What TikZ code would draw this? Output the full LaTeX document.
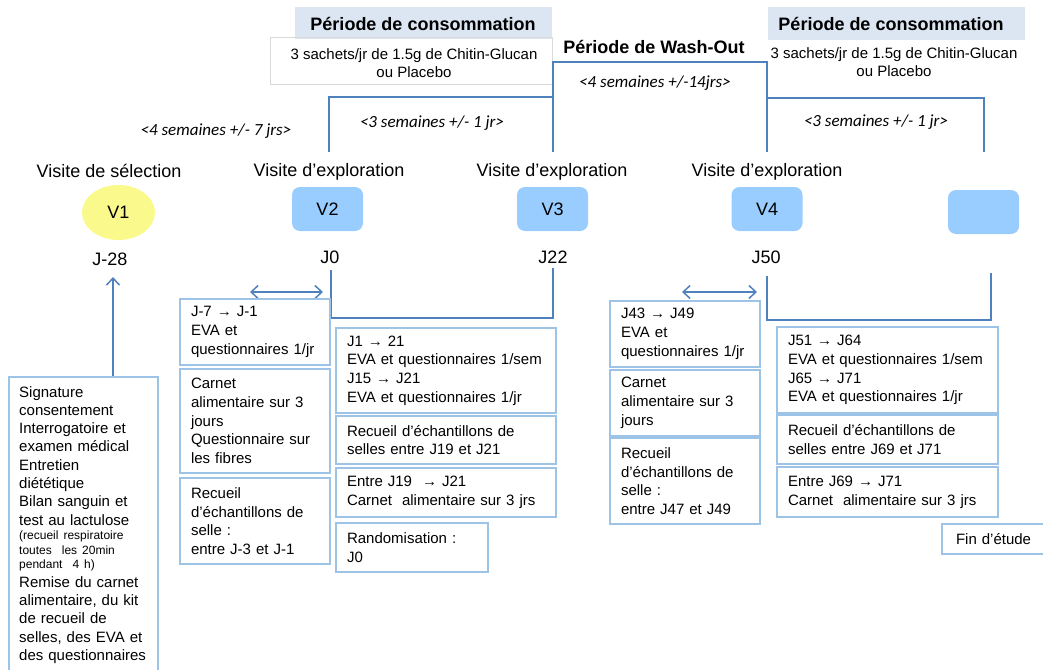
\documentclass[tikz,border=0pt]{standalone}
\usepackage{fontspec}
\setmainfont{Liberation Sans}
\newfontfamily\durfam{Carlito}
\usetikzlibrary{arrows.meta,shapes.geometric}
\definecolor{lineblue}{RGB}{79,129,189}
\definecolor{boxblue}{RGB}{157,195,230}
\definecolor{nodeblue}{RGB}{153,204,255}
\definecolor{vyellow}{RGB}{250,250,140}
\definecolor{hdrfill}{RGB}{220,230,242}
\definecolor{greyline}{RGB}{217,217,217}
\tikzset{
  conn/.style={draw=lineblue, line width=1.5pt},
  tipb/.style={-{Straight Barb[length=7pt,width=13pt]}},
  tipbb/.style={{Straight Barb[length=7pt,width=13pt]}-{Straight Barb[length=7pt,width=13pt]}},
  infobox/.style={draw=boxblue, line width=2pt, align=left, inner xsep=11pt, inner ysep=0pt,
    anchor=north west, font={\fontsize{15}{18.7}\selectfont}},
  vnode/.style={fill=nodeblue, rounded corners=8pt, minimum width=71pt, minimum height=44pt,
    inner sep=0pt, font={\fontsize{18}{21}\selectfont}},
  lbl/.style={font={\fontsize{18}{21}\selectfont}, anchor=base, inner sep=0pt},
  hdr/.style={font={\bfseries\fontsize{18}{21}\selectfont}, anchor=base, inner sep=0pt},
  dur/.style={font={\durfam\itshape\fontsize{17}{20}\selectfont}, anchor=base, inner sep=0pt},
  hdrbox/.style={fill=hdrfill, anchor=north west, inner sep=0pt},
  sach/.style={font={\fontsize{15}{18}\selectfont}, align=center, anchor=north, inner sep=0pt},
}
\begin{document}
\begin{tikzpicture}[x=1pt,y=-1pt]
\useasboundingbox (0,0) rectangle (1043,669);

% headers
\node[hdrbox, minimum width=257pt, minimum height=32pt] (h1box) at (295,7) {};
\node[hdr] (h1) at (423,31) {Période de consommation};
\node[draw=greyline, line width=0.8pt, anchor=north west, minimum width=282pt, minimum height=47pt, inner sep=0pt] (s1box) at (270,37) {};
\node[sach] (s1) at (414,48) {3 sachets/jr de 1.5g de Chitin-Glucan\\ou Placebo};

\node[hdrbox, minimum width=257pt, minimum height=33pt] (h2box) at (768,7) {};
\node[hdr] (h2) at (891,31) {Période de consommation};
\node[sach] (s2) at (894,47) {3 sachets/jr de 1.5g de Chitin-Glucan\\ou Placebo};

\node[hdr] (wo) at (654,54) {Période de Wash-Out};
\node[dur] (d4w) at (655,87) {<4 semaines +/-14jrs>};
\node[dur] (d47) at (216,135) {<4 semaines +/- 7 jrs>};
\node[dur] (d3a) at (432,127) {<3 semaines +/- 1 jr>};
\node[dur] (d3b) at (876,126) {<3 semaines +/- 1 jr>};

% top brackets
\coordinate (t1) at (329,152); \coordinate (t1u) at (329,97);
\coordinate (t2) at (553,152); \coordinate (t2u) at (553,62); \coordinate (t2m) at (553,97);
\coordinate (t3) at (767,152); \coordinate (t3u) at (767,62); \coordinate (t3m) at (767,98);
\coordinate (t4) at (984,152); \coordinate (t4u) at (984,98);
\draw[conn] (t1) -- (t1u) -- (t2m);
\draw[conn] (t2) -- (t2u) -- (t3u) -- (t3);
\draw[conn] (t3m) -- (t4u) -- (t4);

% visit labels
\node[lbl] (vs) at (109,177) {Visite de sélection};
\node[lbl] (ve1) at (329,176) {Visite d’exploration};
\node[lbl] (ve2) at (552,176) {Visite d’exploration};
\node[lbl] (ve3) at (767,176) {Visite d’exploration};

% visit nodes
\node[fill=vyellow, ellipse, minimum width=73pt, minimum height=55pt, inner sep=0pt,
  font={\fontsize{18}{21}\selectfont}] (v1) at (118.5,212.5) {V1};
\node[vnode] (v2) at (327.5,209) {V2};
\node[vnode] (v3) at (552.5,209) {V3};
\node[vnode] (v4) at (767,209) {V4};
\node[vnode] (v5) at (983.5,212) {};

% day labels
\node[lbl] (j28) at (110,265) {J-28};
\node[lbl] (j0) at (330,263) {J0};
\node[lbl] (j22) at (553,263) {J22};
\node[lbl] (j50) at (766,263) {J50};

% lower brackets
\coordinate (b0) at (331,270); \coordinate (b0d) at (331,318);
\coordinate (b22) at (553,268); \coordinate (b22d) at (553,318);
\draw[conn] (b0) -- (b0d) -- (b22d) -- (b22);
\coordinate (b50) at (767,276); \coordinate (b50d) at (767,320);
\coordinate (b71) at (991,273); \coordinate (b71d) at (991,320);
\draw[conn] (b50) -- (b50d) -- (b71d) -- (b71);

% double arrows
\coordinate (da1) at (250,292); \coordinate (db1) at (323,292);
\coordinate (da2) at (682,292); \coordinate (db2) at (757,292);
\draw[conn, tipbb] (da1) -- (db1);
\draw[conn, tipbb] (da2) -- (db2);

% selection box
\node[draw=boxblue, line width=2pt, anchor=north west, minimum width=149pt, minimum height=298pt,
  inner sep=0pt] (sel) at (8,376) {};
\node[anchor=north west, inner sep=0pt, text width=140pt, align=left,
  font={\fontsize{15}{18.3}\selectfont}] (seltxt) at (19,386) {Signature\par
consentement\par
Interrogatoire et\par
examen médical\par
Entretien\par
diététique\par
Bilan sanguin et\par
test au lactulose\par
{\fontsize{12}{14.6}\selectfont (recueil respiratoire\par
toutes\ \ les 20min\par
pendant\ \ 4 h)\par}
Remise du carnet\par
alimentaire, du kit\par
de recueil de\par
selles, des EVA et\par
des questionnaires\par};
\coordinate (a28) at (113,277);
\draw[conn, tipb] (a28 |- sel.north) -- (a28);

% column 1
\node[infobox, text width=128pt, minimum height=66pt] (b1) at (179,298)
  {J-7 → J-1\\EVA et\\questionnaires 1/jr};
\node[infobox, text width=128pt, minimum height=104pt] (b2) at (179,368)
  {Carnet\\alimentaire sur 3\\jours\\Questionnaire sur\\les fibres};
\node[infobox, text width=128pt, minimum height=86pt] (b3) at (179,477)
  {Recueil\\d’échantillons de\\selle :\\entre J-3 et J-1};

% column 2
\node[infobox, text width=198pt, minimum height=85pt] (c1) at (335,327)
  {J1 → 21\\EVA et questionnaires 1/sem\\J15 → J21\\EVA et questionnaires 1/jr};
\node[infobox, text width=198pt, minimum height=48pt] (c2) at (335,415)
  {Recueil d’échantillons de\\selles entre J19 et J21};
\node[infobox, text width=198pt, minimum height=49pt] (c3) at (335,467)
  {Entre J19 \ → J21\\Carnet \ alimentaire sur 3 jrs};
\node[infobox, text width=130pt, minimum height=49pt] (c4) at (335,522)
  {Randomisation :\\J0};

% column 3
\node[infobox, text width=128pt, minimum height=66pt] (d1) at (609,300)
  {J43 → J49\\EVA et\\questionnaires 1/jr};
\node[infobox, text width=128pt, minimum height=66pt] (d2) at (609,369)
  {Carnet\\alimentaire sur 3\\jours};
\node[infobox, text width=128pt, minimum height=86pt] (d3) at (609,437)
  {Recueil\\d’échantillons de\\selle :\\entre J47 et J49};

% column 4
\node[infobox, text width=199pt, minimum height=86pt] (e1) at (776,326)
  {J51 → J64\\EVA et questionnaires 1/sem\\J65 → J71\\EVA et questionnaires 1/jr};
\node[infobox, text width=199pt, minimum height=49pt] (e2) at (776,414)
  {Recueil d’échantillons de\\selles entre J69 et J71};
\node[infobox, text width=199pt, minimum height=50pt] (e3) at (776,466)
  {Entre J69 → J71\\Carnet \ alimentaire sur 3 jrs};
\node[infobox, inner xsep=14pt, text width=90pt, minimum height=30pt] (fin) at (941,523)
  {Fin d’étude};
\end{tikzpicture}
\end{document}
